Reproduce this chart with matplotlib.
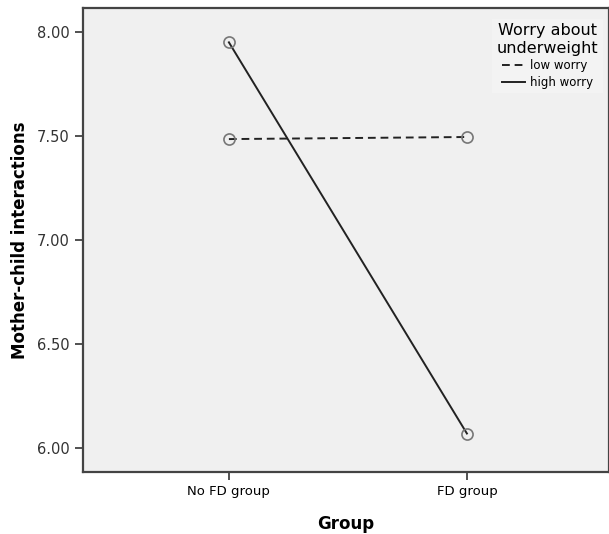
import matplotlib
matplotlib.use("Agg")
import matplotlib.pyplot as plt

groups = ["No FD group", "FD group"]
low_worry = [7.485, 7.495]
high_worry = [7.95, 6.07]
yticks = [6.00, 6.50, 7.00, 7.50, 8.00]
ytick_labels = ["6.00", "6.50", "7.00", "7.50", "8.00"]

fig = plt.figure(figsize=(6.09, 5.34), dpi=100)
ax = fig.add_axes([83/609, 1-472/534, 1-83/609, (472-8)/534])
ax.set_facecolor("#f0f0f0")

x = list(range(len(groups)))
ax.plot(x, low_worry, color="#222222", lw=1.4, ls=(0, (4, 2.5)), marker="o",
        mfc="none", mec="#777777", ms=8, mew=1.2, label="low worry")
ax.plot(x, high_worry, color="#222222", lw=1.4, ls="-", marker="o",
        mfc="none", mec="#777777", ms=8, mew=1.2, label="high worry")

ax.set_xlim(-0.613, 1.597)
ax.set_ylim(5.885, 8.115)
ax.set_xticks(x)
ax.set_xticklabels(groups, fontsize=9.5)
ax.set_yticks(yticks)
ax.set_yticklabels(ytick_labels, fontsize=10.5, color="#333333")
ax.tick_params(direction="out", length=6, width=1.2, color="#333333")
for s in ax.spines.values():
    s.set_linewidth(1.6)
    s.set_color("#444444")

ax.set_ylabel("Mother-child interactions", fontsize=12, fontweight="bold", labelpad=6)
ax.set_xlabel("Group", fontsize=12, fontweight="bold", labelpad=12)

leg = ax.legend(title="Worry about\nunderweight", loc="upper right",
                bbox_to_anchor=(1.0, 0.99), frameon=True, fontsize=8.5,
                title_fontsize=11.5, handlelength=2.0, handletextpad=0.4,
                borderpad=0.4, labelspacing=0.3)
leg.get_frame().set_facecolor("#f4f4f4")
leg.get_frame().set_edgecolor("none")
leg.get_frame().set_boxstyle("square", pad=0)
leg.get_title().set_multialignment("center")
for h in leg.legend_handles:
    h.set_marker("")

fig.savefig("out.png", dpi=100)
